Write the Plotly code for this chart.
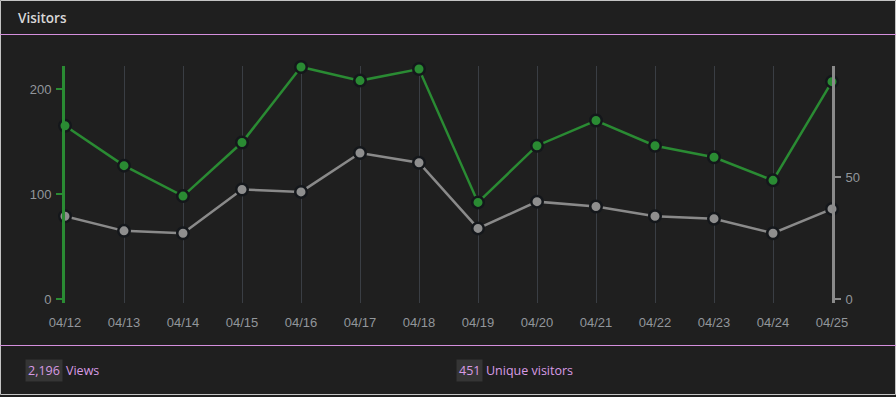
import plotly.graph_objects as go

dates = ["04/12", "04/13", "04/14", "04/15", "04/16", "04/17", "04/18",
         "04/19", "04/20", "04/21", "04/22", "04/23", "04/24", "04/25"]
views = [165, 127, 98, 149, 221, 208, 219, 92, 146, 170, 146, 135, 113, 207]
unique_visitors = [34, 28, 27, 45, 44, 60, 56, 29, 40, 38, 34, 33, 27, 37]
left_ticks = [0, 100, 200]
right_ticks = [0, 50]
title = "Visitors"
total_views = "2,196"
total_unique = "451"

W, H = 896, 397
L, R, T, B = 65, 64, 66, 94
PW, PH = W - L - R, H - T - B

def px(x):
    return (x - L) / PW

def py(y):
    return (H - B - y) / PH

GREEN = "#2a8b33"
GREY = "#8a8a8a"
BG = "#1f1f1f"
PINK_LINE = "#d48fdd"
PINK_TEXT = "#d89be4"
TICK_FONT = dict(family="Liberation Sans, Arial, sans-serif", size=13, color="#92969b")

fig = go.Figure()
fig.add_trace(go.Scatter(
    x=dates, y=unique_visitors, yaxis="y2", mode="lines+markers",
    line=dict(color=GREY, width=2.5),
    marker=dict(size=11.5, color="#8e8e8e", line=dict(color="#14171b", width=2.5)),
    cliponaxis=False, hoverinfo="skip", showlegend=False))
fig.add_trace(go.Scatter(
    x=dates, y=views, yaxis="y", mode="lines+markers",
    line=dict(color=GREEN, width=2.5),
    marker=dict(size=11.5, color=GREEN, line=dict(color="#14171b", width=2.5)),
    cliponaxis=False, hoverinfo="skip", showlegend=False))

left_top = (299 - T) / 1.05
left_bottom = left_top - PH / 1.05
right_top = (299 - T) / 2.434
right_bottom = right_top - PH / 2.434

shapes = [
    dict(type="line", xref="paper", yref="paper", x0=px(0), x1=px(W), y0=py(34.5), y1=py(34.5),
         line=dict(color=PINK_LINE, width=1)),
    dict(type="line", xref="paper", yref="paper", x0=px(0), x1=px(W), y0=py(345.5), y1=py(345.5),
         line=dict(color=PINK_LINE, width=1)),
    dict(type="rect", xref="paper", yref="paper", x0=px(0.5), x1=px(895.5), y0=py(0.5), y1=py(394.5),
         line=dict(color="#c4c4c4", width=1), layer="below"),
]

annotations = [
    dict(text=title, xref="paper", yref="paper", x=px(16), y=py(18), xanchor="left", yanchor="middle",
         showarrow=False, font=dict(family="Open Sans, sans-serif", size=13.5, color="#d8d8d8", weight=600)),
    dict(text=total_views, xref="paper", yref="paper", x=px(25), y=py(370.5), xanchor="left", yanchor="middle",
         showarrow=False, bgcolor="#353535", borderpad=2,
         font=dict(family="Open Sans, sans-serif", size=12.5, color=PINK_TEXT)),
    dict(text="Views", xref="paper", yref="paper", x=px(64), y=py(370.5), xanchor="left", yanchor="middle",
         showarrow=False, font=dict(family="Open Sans, sans-serif", size=12.5, color=PINK_TEXT)),
    dict(text=total_unique, xref="paper", yref="paper", x=px(456), y=py(370.5), xanchor="left", yanchor="middle",
         showarrow=False, bgcolor="#353535", borderpad=2,
         font=dict(family="Open Sans, sans-serif", size=12.5, color=PINK_TEXT)),
    dict(text="Unique visitors", xref="paper", yref="paper", x=px(484), y=py(370.5), xanchor="left", yanchor="middle",
         showarrow=False, font=dict(family="Open Sans, sans-serif", size=12.5, color=PINK_TEXT)),
]

fig.update_layout(
    width=W, height=H,
    margin=dict(l=L, r=R, t=T, b=B, pad=0),
    paper_bgcolor=BG, plot_bgcolor=BG,
    shapes=shapes, annotations=annotations,
    xaxis=dict(type="category", range=[0, len(dates) - 1], showgrid=True, gridcolor="#3a3e44", gridwidth=1,
               showline=False, zeroline=False, ticks="", tickfont=TICK_FONT, ticklabelstandoff=10,
               fixedrange=True),
    yaxis=dict(range=[left_bottom, left_top], tickvals=left_ticks, showgrid=False, zeroline=False,
               showline=True, linecolor=GREEN, linewidth=3, ticks="outside", ticklen=6, tickwidth=2,
               tickcolor=GREEN, tickfont=TICK_FONT, ticklabelstandoff=2, fixedrange=True),
    yaxis2=dict(range=[right_bottom, right_top], tickvals=right_ticks, overlaying="y", side="right",
                showgrid=False, zeroline=False, showline=True, linecolor=GREY, linewidth=3,
                ticks="outside", ticklen=6, tickwidth=2, tickcolor=GREY, tickfont=TICK_FONT,
                ticklabelstandoff=2, fixedrange=True),
)

fig.write_html("out.html", config={"displayModeBar": False},
               post_script="document.body.style.margin='0';")
